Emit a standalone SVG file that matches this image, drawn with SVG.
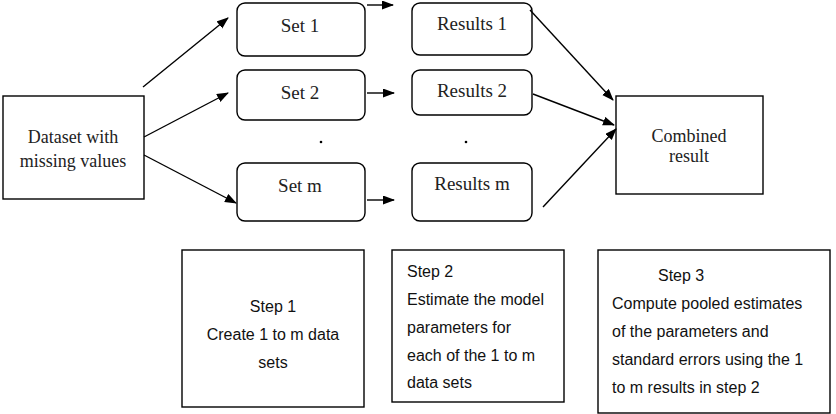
<svg xmlns="http://www.w3.org/2000/svg" width="836" height="414" viewBox="0 0 836 414">
<style>
.box{fill:#fff;stroke:#000;stroke-width:1.4}
.t{font-family:"Liberation Serif","Times New Roman",serif;fill:#222;text-anchor:middle}
.a{font-family:"Liberation Sans",Arial,sans-serif;font-size:16px;fill:#111}
.c line{stroke:#000;stroke-width:1.4;marker-end:url(#ah)}
</style>
<defs>
<marker id="ah" markerUnits="userSpaceOnUse" markerWidth="12" markerHeight="10" refX="11" refY="4.5" orient="auto">
<path d="M0,0 L12,4.5 L0,9 z" fill="#000"/>
</marker>
</defs>
<rect width="836" height="414" fill="#fff"/>
<g id="dataset">
<rect class="box" x="3" y="96" width="141" height="103"/>
<text class="t" x="73" y="143" font-size="18">Dataset with</text>
<text class="t" x="73" y="167" font-size="18">missing values</text>
</g>
<g id="set1">
<rect class="box" x="237" y="3" width="128" height="53" rx="8"/>
<text class="t" x="300" y="32" font-size="19">Set 1</text>
</g>
<g id="set2">
<rect class="box" x="237" y="70" width="128" height="50" rx="8"/>
<text class="t" x="300" y="99" font-size="19">Set 2</text>
</g>
<g id="setm">
<rect class="box" x="237" y="163" width="128" height="58" rx="8"/>
<text class="t" x="300" y="192" font-size="19">Set m</text>
</g>
<g id="res1">
<rect class="box" x="412" y="3" width="120" height="52" rx="8"/>
<text class="t" x="472" y="30" font-size="19">Results 1</text>
</g>
<g id="res2">
<rect class="box" x="412" y="70" width="120" height="45" rx="8"/>
<text class="t" x="472" y="97" font-size="19">Results 2</text>
</g>
<g id="resm">
<rect class="box" x="412" y="163" width="120" height="58" rx="8"/>
<text class="t" x="472" y="190" font-size="19">Results m</text>
</g>
<g id="dots">
<circle cx="321" cy="142" r="1.3" fill="#000"/>
<circle cx="466" cy="142" r="1.3" fill="#000"/>
</g>
<g id="combined">
<rect class="box" x="616" y="96" width="147" height="98"/>
<text class="t" x="689" y="142" font-size="18">Combined</text>
<text class="t" x="689" y="162" font-size="18">result</text>
</g>
<g class="c" id="connectors">
<line x1="143" y1="87" x2="228" y2="18"/>
<line x1="144" y1="137" x2="228" y2="93"/>
<line x1="144" y1="155" x2="236" y2="203"/>
<line x1="367" y1="5" x2="393" y2="5"/>
<line x1="367" y1="93" x2="394" y2="93"/>
<line x1="367" y1="200" x2="394" y2="200"/>
<line x1="530" y1="10" x2="613" y2="100"/>
<line x1="533" y1="94" x2="614" y2="125"/>
<line x1="543" y1="207" x2="616" y2="129"/>
</g>
<g id="step1">
<rect class="box" x="182" y="250" width="182" height="157"/>
<text class="a" x="273" y="312" text-anchor="middle">Step 1</text>
<text class="a" x="273" y="340" text-anchor="middle">Create 1 to m data</text>
<text class="a" x="273" y="368" text-anchor="middle">sets</text>
</g>
<g id="step2">
<rect class="box" x="392" y="250" width="172" height="152"/>
<text class="a" x="407" y="277">Step 2</text>
<text class="a" x="407" y="305">Estimate the model</text>
<text class="a" x="407" y="333">parameters  for</text>
<text class="a" x="407" y="361">each of the 1 to m</text>
<text class="a" x="407" y="388">data sets</text>
</g>
<g id="step3">
<rect class="box" x="598" y="250" width="232" height="163"/>
<text class="a" x="658" y="281" font-size="17">Step 3</text>
<text class="a" x="612" y="309">Compute pooled estimates</text>
<text class="a" x="612" y="337">of the parameters and</text>
<text class="a" x="612" y="365">standard errors using the 1</text>
<text class="a" x="612" y="393">to m results in step 2</text>
</g>
</svg>
